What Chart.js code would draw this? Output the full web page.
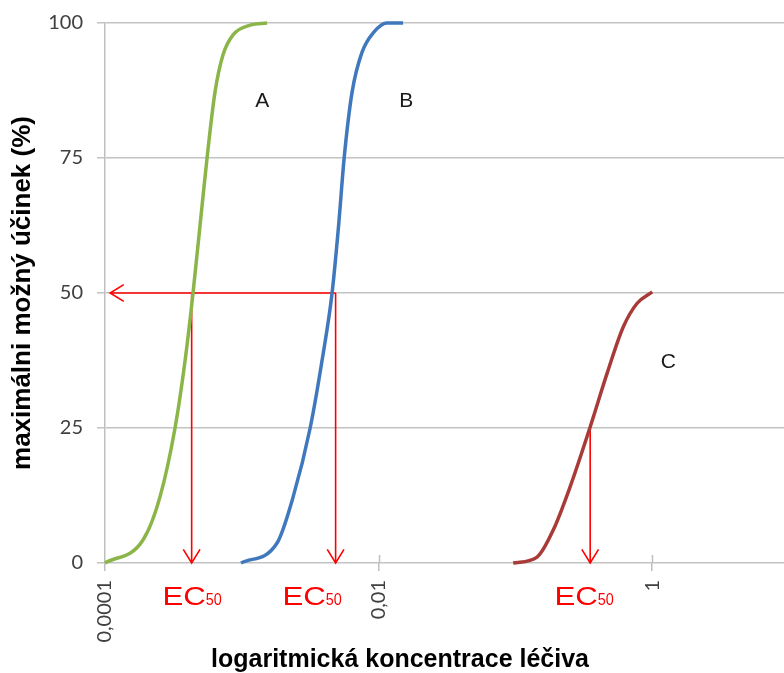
<!DOCTYPE html>
<html><head><meta charset="utf-8">
<script src="https://cdn.jsdelivr.net/npm/chart.js@4/dist/chart.umd.min.js"></script>
<style>html,body{margin:0;padding:0;background:#fff}</style>
</head><body>
<canvas id="c" width="784" height="673"></canvas>
<script>
// ---- data (concentration, effect %) ----
const concA   = [1.0e-4, 1.90e-4, 2.52e-4, 3.25e-4, 3.85e-4, 4.40e-4, 4.95e-4, 5.57e-4, 6.37e-4, 7.29e-4, 8.63e-4, 1.15e-3, 1.53e-3];
const effectA = [0, 4.3, 12.2, 25, 37.5, 50, 62.5, 75.0, 87.2, 94.1, 97.8, 99.6, 100];
const concB   = [9.87e-4, 1.81e-3, 2.37e-3, 3.16e-3, 3.86e-3, 4.57e-3, 5.10e-3, 5.60e-3, 6.40e-3, 7.57e-3, 9.23e-3, 1.15e-2, 1.51e-2];
const effectB = [0, 3.7, 12.2, 25, 37.5, 50, 62.5, 75.0, 87.2, 94.6, 98.3, 100, 100];
const concC   = [0.0963, 0.144, 0.189, 0.251, 0.352, 0.469, 0.614, 0.776, 1.0];
const effectC = [0, 1.1, 6.1, 14.1, 25.2, 35.2, 43.7, 48.1, 50.2];

const ec50Conc  = [4.3e-4, 4.85e-3, 0.352];   // A, B, C
const ec50Level = [50, 50, 25];
const arrowLeftEnd = 1.09e-4;

const xTickValues = [0.0001, 0.01, 1];
const xTickLabels = ['0,0001', '0,01', '1'];
const xMin = 0.0001, xMax = 9.19;
const yMin = 0, yMax = 100, yStep = 25;

const curveLabels = ['A', 'B', 'C'];
const curveLabelX = [1.41e-3, 1.59e-2, 1.31];
const curveLabelY = [85.6, 85.6, 37.2];
const ecLabelX = [4.33e-4, 3.27e-3, 0.318];

const yTitle = 'maximálni možný účinek (%)';
const xTitle = 'logaritmická koncentrace léčiva';

// ---- build datasets ----
const pts = (xs, ys) => xs.map((v, i) => ({x: v, y: ys[i]}));
const curve = (xs, ys, color) => ({
  data: pts(xs, ys), borderColor: color, borderWidth: 3.5, pointRadius: 0,
  cubicInterpolationMode: 'monotone', showLine: true, clip: 6, fill: false
});
const arrowDs = (d) => ({
  data: d, borderColor: '#ff0000', borderWidth: 1.6, pointRadius: 0, showLine: true,
  tension: 0, clip: 6, fill: false, isArrow: true
});

const datasets = [
  curve(concA, effectA, '#8cb549'),
  curve(concB, effectB, '#3f78bd'),
  curve(concC, effectC, '#a83b38'),
  arrowDs([{x: ec50Conc[1], y: ec50Level[1]}, {x: arrowLeftEnd, y: ec50Level[1]}]),
  ...ec50Conc.map((c, i) => arrowDs([{x: c, y: ec50Level[i]}, {x: c, y: 0}]))
];

const overlay = {
  id: 'overlay',
  afterDatasetsDraw(chart) {
    const {ctx} = chart;
    const xs = chart.scales.x, ys = chart.scales.y;
    ctx.save();
    // cross ticks on x axis (upper half)
    ctx.strokeStyle = '#bfbfbf'; ctx.lineWidth = 1.5;
    xTickValues.slice(1).forEach(v => {
      const px = Math.round(xs.getPixelForValue(v)) + 0.5;
      ctx.beginPath(); ctx.moveTo(px, ys.bottom - 8); ctx.lineTo(px, ys.bottom); ctx.stroke();
    });
    // arrowheads
    chart.data.datasets.forEach((ds, i) => {
      if (!ds.isArrow) return;
      const els = chart.getDatasetMeta(i).data;
      const a = els[els.length - 2], b = els[els.length - 1];
      const ang = Math.atan2(b.y - a.y, b.x - a.x);
      const len = 16, spread = 0.55;
      ctx.strokeStyle = '#ff0000'; ctx.lineWidth = 1.6;
      ctx.beginPath();
      ctx.moveTo(b.x - len * Math.cos(ang - spread), b.y - len * Math.sin(ang - spread));
      ctx.lineTo(b.x, b.y);
      ctx.lineTo(b.x - len * Math.cos(ang + spread), b.y - len * Math.sin(ang + spread));
      ctx.stroke();
    });
    // curve labels
    ctx.fillStyle = '#1a1a1a';
    ctx.font = '21px "Liberation Sans", Arial, sans-serif';
    ctx.textAlign = 'center'; ctx.textBaseline = 'middle';
    curveLabels.forEach((t, i) => {
      ctx.fillText(t, xs.getPixelForValue(curveLabelX[i]), ys.getPixelForValue(curveLabelY[i]));
    });
    // EC50 labels
    ctx.fillStyle = '#ff0000';
    ctx.textBaseline = 'alphabetic'; ctx.textAlign = 'left';
    const base = ys.bottom + 42;
    ecLabelX.forEach(cx => {
      const px = xs.getPixelForValue(cx);
      ctx.font = '26px "Liberation Sans", Arial, sans-serif';
      const wEC = ctx.measureText('EC').width * 1.2;
      ctx.font = '16px "Liberation Sans", Arial, sans-serif';
      const w50 = ctx.measureText('50').width * 0.9;
      const start = px - (wEC + w50) / 2;
      ctx.save(); ctx.translate(start, base); ctx.scale(1.2, 1);
      ctx.font = '26px "Liberation Sans", Arial, sans-serif'; ctx.fillText('EC', 0, 0); ctx.restore();
      ctx.save(); ctx.translate(start + wEC, base); ctx.scale(0.9, 1);
      ctx.font = '16px "Liberation Sans", Arial, sans-serif'; ctx.fillText('50', 0, 0); ctx.restore();
    });
    // x axis title (centred on the figure, as in the reference)
    ctx.fillStyle = '#000';
    ctx.font = 'bold 25px "Liberation Sans", Arial, sans-serif';
    ctx.textAlign = 'center'; ctx.textBaseline = 'middle';
    ctx.fillText(xTitle, chart.width / 2 + 8, chart.height - 13);
    ctx.restore();
  }
};

new Chart(document.getElementById('c'), {
  type: 'scatter',
  data: {datasets},
  options: {
    responsive: false, animation: false, devicePixelRatio: 1,
    layout: {padding: {top: 23, right: 0, bottom: 0, left: 0}},
    plugins: {legend: {display: false}, tooltip: {enabled: false}},
    scales: {
      x: {
        type: 'logarithmic', min: xMin, max: xMax,
        afterBuildTicks: s => { s.ticks = xTickValues.map(v => ({value: v})); },
        afterFit: s => { s.height = 110; },
        ticks: {
          autoSkip: false, minRotation: 90, maxRotation: 90, padding: 9,
          color: '#404040', font: {family: 'Lato', size: 20},
          callback: (v) => { const i = xTickValues.indexOf(v); return i >= 0 ? xTickLabels[i] : ''; }
        },
        grid: {drawOnChartArea: false, drawTicks: true, tickLength: 8, color: '#bfbfbf', lineWidth: 1.5},
        border: {display: false},
        title: {display: false}
      },
      y: {
        min: yMin, max: yMax,
        afterFit: s => { s.width = 105; s.paddingTop = 0; },
        ticks: {stepSize: yStep, padding: 14, color: '#404040', font: {family: 'Lato', size: 20, lineHeight: 0.8}},
        grid: {color: '#c3c3c3', lineWidth: 1.5, tickLength: 8},
        border: {display: true, color: '#bfbfbf', width: 1.5},
        title: {display: true, text: yTitle, color: '#000', font: {family: '"Liberation Sans"', size: 26, weight: 'bold'}, padding: {top: 7, bottom: 0}}
      }
    }
  },
  plugins: [overlay]
});
</script>
</body></html>
